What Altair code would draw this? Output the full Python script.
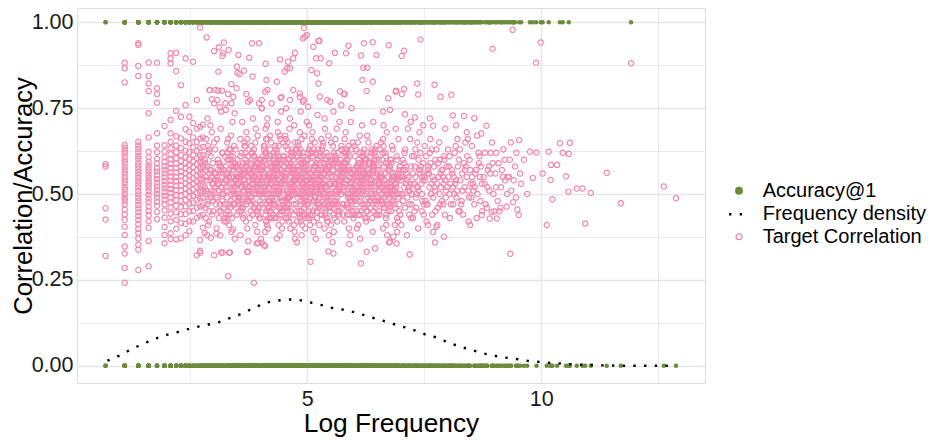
import altair as alt
import pandas as pd

FONT = "Liberation Sans"
GREEN = "#6E8B3D"
PINK = "#F386AF"
GRID = "#E6E6E6"

# ---- discrete low-frequency columns (x = log frequency) ----
COLUMN_X = [0.69, 1.10, 1.39, 1.61, 1.79, 1.95, 2.08, 2.20, 2.30, 2.40, 2.48, 2.56, 2.64, 2.71, 2.77]
COLUMN_CORR = [
    [0.587, 0.580, 0.459, 0.426, 0.320],
    [0.882, 0.866, 0.825, 0.643, 0.635, 0.627, 0.618, 0.608, 0.598, 0.589, 0.578, 0.569, 0.560, 0.549, 0.540, 0.531,
     0.520, 0.511, 0.500, 0.490, 0.481, 0.470, 0.455, 0.440, 0.425, 0.405, 0.381, 0.347, 0.327, 0.285, 0.242],
    [0.939, 0.934, 0.873, 0.844, 0.652, 0.641, 0.632, 0.622, 0.611, 0.603, 0.592, 0.583, 0.574, 0.565, 0.556, 0.547,
     0.537, 0.528, 0.519, 0.509, 0.499, 0.489, 0.479, 0.468, 0.458, 0.447, 0.436, 0.425, 0.412, 0.399, 0.387, 0.371,
     0.352, 0.338, 0.279],
    [0.883, 0.844, 0.822, 0.800, 0.735, 0.665, 0.623, 0.607, 0.594, 0.584, 0.575, 0.566, 0.556, 0.547, 0.537, 0.528,
     0.519, 0.509, 0.498, 0.487, 0.476, 0.464, 0.451, 0.438, 0.421, 0.402, 0.363, 0.290],
    [0.882, 0.808, 0.791, 0.766, 0.677, 0.641, 0.622, 0.603, 0.589, 0.576, 0.566, 0.555, 0.544, 0.533, 0.522, 0.512,
     0.501, 0.490, 0.478, 0.466, 0.448, 0.427],
    [0.698, 0.642, 0.624, 0.607, 0.594, 0.582, 0.571, 0.560, 0.549, 0.538, 0.527, 0.517, 0.506, 0.495, 0.484, 0.470,
     0.452, 0.431, 0.404, 0.381, 0.357],
    [0.910, 0.895, 0.880, 0.716, 0.677, 0.652, 0.633, 0.616, 0.601, 0.588, 0.575, 0.563, 0.551, 0.539, 0.527, 0.515,
     0.503, 0.490, 0.476, 0.461, 0.443, 0.421, 0.386, 0.369],
    [0.911, 0.858, 0.742, 0.668, 0.641, 0.622, 0.604, 0.589, 0.576, 0.563, 0.550, 0.537, 0.524, 0.511, 0.497, 0.482,
     0.466, 0.447, 0.425, 0.399, 0.368],
    [0.817, 0.725, 0.662, 0.634, 0.613, 0.596, 0.580, 0.566, 0.552, 0.539, 0.525, 0.511, 0.496, 0.480, 0.462, 0.441,
     0.416, 0.371],
    [0.895, 0.759, 0.689, 0.652, 0.627, 0.607, 0.590, 0.575, 0.560, 0.546, 0.531, 0.516, 0.500, 0.483, 0.464, 0.442,
     0.413, 0.380],
    [0.725, 0.681, 0.648, 0.622, 0.602, 0.585, 0.569, 0.554, 0.539, 0.524, 0.508, 0.491, 0.472, 0.450, 0.421, 0.392],
    [0.885, 0.707, 0.665, 0.636, 0.614, 0.595, 0.578, 0.562, 0.546, 0.530, 0.513, 0.495, 0.475, 0.451, 0.420],
    [0.774, 0.690, 0.652, 0.626, 0.605, 0.587, 0.570, 0.554, 0.538, 0.521, 0.503, 0.483, 0.460, 0.431, 0.322],
    [0.985, 0.696, 0.661, 0.634, 0.612, 0.593, 0.576, 0.559, 0.542, 0.525, 0.507, 0.487, 0.464, 0.436, 0.366, 0.335,
     0.329],
    [0.702, 0.665, 0.637, 0.614, 0.595, 0.577, 0.560, 0.543, 0.526, 0.508, 0.489, 0.467, 0.440, 0.402],
]
COLUMN_ACC = [
    "10010",
    "1001011010011010110010110100101",
    "10011010110010101101001101010011010",
    "0110110010110010101100110101",
    "1011001011001011010011",
    "010110110010101100110",
    "101011001101010011011001",
    "110010110100110101101",
    "101100101101001011",
    "011011001011010100",
    "1001101101001101",
    "110100110100101",
    "011011001011010",
    "10110010011011001",
    "01011011001011",
]

# ---- main cloud (x, correlation, accuracy) ----
CORE_A = [
    (2.83,.55,1),(2.89,.48,0),(2.94,.61,0),(2.81,.52,1),(2.97,.44,0),(2.86,.58,1),(2.92,.50,1),(2.84,.66,0),
    (2.99,.53,1),(2.88,.41,0),(2.95,.57,0),(2.82,.46,1),(2.90,.63,0),(2.96,.51,1),(2.85,.54,1),(2.93,.70,0),
    (2.87,.47,0),(2.98,.59,1),(2.83,.43,0),(2.91,.56,1),(2.89,.62,0),(2.94,.49,1),(2.81,.60,0),(2.97,.53,0),
    (2.86,.38,1),(2.92,.57,0),(2.84,.51,1),(2.99,.45,1),(2.88,.64,0),(2.95,.55,1),(2.82,.59,0),(2.90,.42,0),
    (2.96,.68,1),(2.85,.50,0),(2.93,.54,1),(2.87,.72,1),(2.98,.48,0),(2.83,.57,0),(2.91,.45,1),
    (3.02,.51,0),(3.14,.58,1),(3.21,.46,1),(3.07,.55,0),(3.18,.62,0),(3.04,.49,1),(3.11,.53,0),(3.23,.42,1),
    (3.09,.60,1),(3.16,.52,0),(3.01,.65,0),(3.13,.47,1),(3.20,.56,0),(3.06,.40,1),(3.24,.54,1),(3.10,.59,0),
    (3.17,.50,0),(3.03,.63,1),(3.12,.45,0),(3.22,.57,1),(3.08,.53,1),(3.15,.69,0),(3.19,.48,0),(3.05,.56,1),
    (3.11,.43,0),(3.24,.61,1),(3.02,.52,0),(3.14,.38,1),(3.18,.55,1),(3.07,.66,0),(3.21,.50,1),(3.09,.57,0),
    (3.16,.74,0),(3.04,.54,1),(3.23,.47,1),
    (3.27,.56,1),(3.38,.50,0),(3.46,.59,0),(3.31,.45,1),(3.42,.53,1),(3.29,.62,0),(3.36,.48,0),(3.48,.55,1),
    (3.33,.41,0),(3.40,.58,1),(3.26,.52,0),(3.44,.64,1),(3.35,.47,1),(3.47,.54,0),(3.30,.60,0),(3.39,.43,1),
    (3.43,.57,0),(3.28,.51,1),(3.37,.67,1),(3.45,.49,0),(3.32,.55,0),(3.41,.61,1),(3.34,.44,0),(3.49,.53,1),
    (3.26,.58,1),(3.38,.39,0),(3.46,.52,0),(3.30,.56,1),(3.42,.47,0),(3.36,.63,1),(3.44,.50,1),(3.28,.54,0),
    (3.40,.71,0),(3.33,.57,1),(3.48,.46,0),(3.35,.60,1),(3.27,.42,1),(3.43,.55,0),(3.39,.51,0),(3.31,.66,1),
    (3.47,.58,0),(3.45,.37,1),(3.37,.53,1),(3.29,.49,0),
    (3.52,.53,0),(3.63,.59,1),(3.71,.48,1),(3.56,.56,0),(3.68,.62,0),(3.54,.45,1),(3.61,.52,1),(3.73,.57,0),
    (3.58,.50,0),(3.66,.65,1),(3.51,.55,1),(3.69,.42,0),(3.60,.58,0),(3.74,.51,1),(3.55,.47,0),(3.64,.54,1),
    (3.70,.68,1),(3.53,.49,0),(3.62,.57,0),(3.72,.40,1),(3.57,.61,1),(3.67,.53,0),(3.59,.46,0),(3.65,.56,1),
    (3.51,.60,0),(3.74,.50,1),(3.55,.55,1),(3.63,.43,0),(3.70,.58,0),(3.58,.52,1),(3.68,.64,1),(3.53,.48,0),
    (3.66,.54,0),(3.61,.71,1),(3.73,.51,0),(3.56,.57,1),(3.64,.44,1),(3.71,.59,0),(3.52,.55,0),(3.69,.47,1),
    (3.60,.62,1),(3.67,.52,0),(3.57,.38,0),(3.62,.56,1),(3.72,.66,0),(3.54,.53,1),(3.65,.49,1),
    (3.77,.57,1),(3.88,.52,0),(3.96,.46,0),(3.81,.60,1),(3.93,.54,1),(3.79,.49,0),(3.86,.63,0),(3.98,.55,1),
    (3.83,.44,0),(3.91,.58,1),(3.76,.51,1),(3.94,.67,0),(3.85,.53,0),(3.99,.48,1),(3.80,.56,0),(3.89,.41,1),
    (3.95,.59,1),(3.78,.52,0),(3.87,.61,0),(3.97,.50,1),(3.82,.55,1),(3.92,.45,0),(3.84,.57,0),(3.90,.69,1),
    (3.76,.54,0),(3.99,.60,1),(3.80,.47,1),(3.88,.55,0),(3.95,.52,0),(3.83,.62,1),(3.93,.39,0),(3.78,.56,1),
    (3.91,.50,1),(3.86,.58,0),(3.98,.43,0),(3.81,.53,1),(3.89,.65,0),(3.96,.57,1),(3.77,.48,1),(3.94,.54,0),
    (3.85,.61,0),(3.92,.51,1),(3.87,.46,1),(3.79,.59,0),(3.97,.53,0),(3.84,.72,1),(3.90,.50,0),(3.82,.56,1),
    (3.95,.44,1),(3.88,.58,0),(3.80,.64,0),(3.93,.52,1),(3.86,.55,1),
]
CORE_B = [
    (4.02,.54,1),(4.13,.47,0),(4.21,.61,1),(4.06,.52,0),(4.18,.43,0),(4.04,.58,1),(4.11,.50,1),(4.23,.65,0),
    (4.08,.55,0),(4.16,.40,1),(4.01,.57,0),(4.19,.46,1),(4.10,.62,1),(4.24,.53,0),(4.05,.49,0),(4.14,.70,1),
    (4.20,.48,0),(4.03,.59,1),(4.12,.42,1),(4.22,.56,0),(4.07,.64,0),(4.17,.50,1),(4.09,.60,0),(4.15,.53,1),
    (4.01,.37,1),(4.24,.55,0),(4.05,.61,0),(4.13,.45,1),(4.20,.67,0),(4.08,.51,1),(4.18,.52,1),(4.03,.75,0),
    (4.16,.57,0),(4.11,.44,1),(4.23,.49,0),(4.06,.58,1),(4.14,.54,1),(4.21,.63,0),(4.02,.47,0),(4.19,.56,1),
    (4.10,.39,1),(4.17,.60,0),(4.07,.52,0),(4.12,.66,1),(4.22,.45,0),(4.04,.50,1),(4.15,.72,1),(4.09,.55,0),
    (4.20,.58,0),(4.01,.51,1),(4.13,.61,0),(4.24,.43,1),(4.06,.56,1),(4.18,.48,0),(4.11,.69,0),(4.03,.53,1),
    (4.16,.46,0),(4.21,.54,1),(4.08,.63,1),(4.14,.41,0),(4.19,.59,0),
    (4.27,.50,0),(4.38,.56,1),(4.46,.45,1),(4.31,.59,0),(4.43,.53,0),(4.29,.47,1),(4.36,.62,0),(4.48,.51,1),
    (4.33,.57,1),(4.41,.44,0),(4.26,.55,0),(4.44,.60,1),(4.35,.49,1),(4.49,.65,0),(4.30,.52,0),(4.39,.41,1),
    (4.45,.57,0),(4.28,.54,1),(4.37,.68,1),(4.47,.48,0),(4.32,.56,0),(4.42,.51,1),(4.34,.63,1),(4.40,.46,0),
    (4.26,.58,0),(4.49,.53,1),(4.30,.43,0),(4.38,.60,1),(4.45,.55,1),(4.33,.50,0),(4.43,.66,0),(4.28,.52,1),
    (4.41,.38,1),(4.36,.58,0),(4.48,.54,0),(4.31,.47,1),(4.39,.61,0),(4.46,.56,1),(4.27,.44,1),(4.44,.53,0),
    (4.35,.59,0),(4.42,.49,1),(4.37,.71,1),(4.29,.55,0),(4.47,.42,0),(4.34,.57,1),(4.40,.52,1),(4.32,.64,0),
    (4.45,.48,0),(4.38,.54,1),(4.30,.60,1),(4.43,.46,0),(4.36,.53,0),(4.49,.58,1),(4.26,.51,0),(4.41,.67,1),
    (4.33,.45,1),(4.47,.56,0),(4.28,.62,0),(4.39,.50,1),(4.44,.74,0),(4.31,.54,1),(4.46,.40,1),(4.35,.57,0),
    (4.73,.54,1),(4.58,.47,0),(4.51,.61,0),(4.66,.52,1),(4.55,.43,1),(4.69,.58,0),(4.62,.50,0),(4.74,.65,1),
    (4.53,.55,1),(4.64,.40,0),(4.71,.57,0),(4.57,.46,1),(4.68,.62,0),(4.52,.53,1),(4.60,.49,1),(4.72,.70,0),
    (4.56,.48,0),(4.65,.59,1),(4.61,.42,0),(4.70,.56,1),(4.54,.64,1),(4.67,.50,0),(4.59,.60,0),(4.63,.53,1),
    (4.74,.37,0),(4.51,.55,1),(4.66,.61,1),(4.57,.45,0),(4.53,.67,0),(4.70,.51,1),(4.62,.52,0),(4.55,.75,1),
    (4.68,.57,1),(4.72,.44,0),(4.59,.49,0),(4.64,.58,1),(4.52,.54,0),(4.67,.63,1),(4.60,.47,1),(4.56,.56,0),
    (4.73,.39,0),(4.61,.60,1),(4.69,.52,0),(4.54,.66,1),(4.58,.45,1),(4.71,.50,0),(4.63,.72,0),(4.65,.55,1),
    (4.51,.58,0),(4.57,.51,1),(4.69,.61,1),(4.60,.43,0),(4.74,.56,0),(4.55,.48,1),(4.62,.69,1),(4.66,.53,0),
    (4.53,.46,0),(4.70,.54,1),(4.58,.63,0),(4.72,.41,1),(4.56,.59,1),(4.64,.51,0),(4.67,.57,0),(4.61,.49,1),
    (4.77,.50,1),(4.92,.56,0),(4.83,.45,0),(4.98,.60,1),(4.80,.53,1),(4.89,.41,0),(4.95,.52,1),(4.76,.63,0),
    (4.86,.48,0),(4.97,.55,1),(4.81,.58,0),(4.90,.44,1),(4.78,.51,1),(4.94,.67,0),(4.85,.54,0),(4.99,.47,1),
    (4.82,.60,0),(4.88,.38,1),(4.96,.57,1),(4.79,.49,0),(4.91,.62,1),(4.84,.52,0),(4.93,.46,0),(4.87,.59,1),
    (4.76,.55,1),(4.98,.43,0),(4.80,.65,0),(4.90,.50,1),(4.83,.57,0),(4.95,.53,1),(4.78,.42,1),(4.92,.61,0),
    (4.86,.47,1),(4.99,.71,0),(4.81,.55,0),(4.89,.51,1),(4.97,.58,1),(4.77,.45,0),(4.85,.63,1),(4.94,.49,0),
    (4.82,.54,0),(4.88,.60,1),(4.96,.40,1),(4.79,.57,0),(4.91,.52,0),(4.84,.68,1),(4.98,.48,1),(4.87,.55,0),
    (4.93,.44,1),(4.80,.61,0),(4.90,.53,0),(4.76,.47,1),(4.95,.59,1),(4.83,.50,0),(4.86,.74,0),(4.97,.54,1),
    (4.78,.36,0),(4.92,.56,1),(4.81,.64,1),(4.89,.49,0),(4.94,.58,0),(4.85,.43,1),(4.99,.52,1),(4.88,.66,0),
]
CORE_C = [
    (5.03,.57,0),(5.16,.49,1),(5.22,.54,1),(5.08,.62,0),(5.12,.45,0),(5.01,.52,1),(5.19,.59,0),(5.06,.41,1),
    (5.14,.55,1),(5.24,.50,0),(5.10,.66,1),(5.02,.47,0),(5.18,.58,0),(5.05,.53,1),(5.21,.43,1),(5.11,.61,0),
    (5.15,.51,0),(5.04,.70,1),(5.20,.48,1),(5.09,.56,0),(5.13,.39,0),(5.23,.63,1),(5.07,.52,0),(5.17,.46,1),
    (5.01,.60,1),(5.12,.54,0),(5.22,.57,0),(5.06,.44,1),(5.16,.65,0),(5.03,.50,1),(5.19,.53,1),(5.10,.59,0),
    (5.24,.47,0),(5.08,.55,1),(5.14,.42,1),(5.02,.62,0),(5.20,.51,0),(5.11,.68,1),(5.05,.56,0),(5.17,.49,1),
    (5.09,.53,1),(5.23,.60,0),(5.04,.45,0),(5.13,.57,1),(5.21,.52,1),(5.07,.64,0),(5.15,.48,1),(5.01,.55,0),
    (5.18,.37,0),(5.12,.61,1),(5.06,.50,1),(5.22,.73,0),(5.10,.54,0),(5.16,.58,1),(5.03,.43,1),(5.19,.56,0),
    (5.08,.51,0),(5.14,.63,1),(5.24,.46,1),
    (5.27,.52,1),(5.38,.58,0),(5.46,.47,0),(5.31,.55,1),(5.42,.61,1),(5.29,.44,0),(5.36,.53,1),(5.48,.50,0),
    (5.33,.64,0),(5.40,.57,1),(5.26,.49,1),(5.44,.42,0),(5.35,.56,0),(5.49,.60,1),(5.30,.51,1),(5.39,.46,0),
    (5.45,.67,1),(5.28,.54,0),(5.37,.40,0),(5.47,.58,1),(5.32,.52,1),(5.41,.62,0),(5.34,.48,1),(5.43,.55,0),
    (5.26,.59,0),(5.49,.45,1),(5.30,.53,1),(5.38,.69,0),(5.45,.50,0),(5.33,.57,1),(5.42,.43,0),(5.28,.61,1),
    (5.40,.52,1),(5.36,.47,0),(5.48,.56,1),(5.31,.63,0),(5.39,.54,0),(5.46,.38,1),(5.27,.57,1),(5.44,.51,0),
    (5.35,.59,0),(5.41,.49,1),(5.37,.72,1),(5.29,.55,0),(5.47,.46,0),(5.34,.53,1),(5.40,.60,0),(5.32,.44,1),
    (5.45,.58,1),(5.38,.52,0),(5.30,.66,0),(5.43,.48,1),(5.36,.56,1),(5.49,.53,0),(5.26,.41,0),(5.41,.57,1),
    (5.35,.50,1),
    (5.52,.55,0),(5.64,.49,1),(5.71,.60,0),(5.57,.53,1),(5.68,.44,1),(5.54,.58,0),(5.61,.51,0),(5.74,.63,1),
    (5.58,.47,1),(5.66,.56,0),(5.51,.41,1),(5.69,.54,0),(5.60,.66,0),(5.73,.50,1),(5.55,.57,1),(5.63,.45,0),
    (5.70,.52,1),(5.53,.61,0),(5.62,.48,0),(5.72,.55,1),(5.57,.39,1),(5.67,.59,0),(5.59,.53,0),(5.65,.62,1),
    (5.51,.50,1),(5.74,.46,0),(5.55,.54,1),(5.63,.69,0),(5.70,.57,0),(5.58,.43,1),(5.68,.51,1),(5.53,.60,0),
    (5.66,.47,0),(5.61,.55,1),(5.73,.64,0),(5.56,.52,1),(5.64,.42,1),(5.71,.58,0),(5.52,.49,0),(5.69,.71,1),
    (5.60,.53,1),(5.67,.45,0),(5.57,.62,0),(5.62,.56,1),(5.72,.50,1),(5.54,.36,0),(5.65,.59,0),(5.59,.48,1),
    (5.70,.54,0),(5.51,.65,1),(5.63,.51,1),(5.74,.57,0),(5.56,.44,0),(5.68,.53,1),(5.61,.60,1),
    (5.94,.53,1),(5.78,.58,0),(5.85,.47,1),(5.99,.55,0),(5.81,.62,0),(5.90,.44,1),(5.76,.52,1),(5.87,.50,0),
    (5.97,.65,0),(5.83,.57,1),(5.92,.49,1),(5.79,.42,0),(5.96,.56,0),(5.86,.60,1),(5.77,.51,1),(5.93,.46,0),
    (5.82,.68,0),(5.98,.54,1),(5.89,.40,1),(5.80,.59,0),(5.95,.52,0),(5.84,.63,1),(5.91,.48,1),(5.76,.55,0),
    (5.88,.58,0),(5.97,.45,1),(5.81,.53,1),(5.93,.71,0),(5.86,.50,0),(5.79,.57,1),(5.99,.43,1),(5.84,.61,0),
    (5.90,.52,0),(5.77,.47,1),(5.95,.56,1),(5.88,.64,0),(5.82,.54,0),(5.92,.38,1),(5.78,.57,1),(5.96,.51,0),
    (5.85,.60,1),(5.98,.49,0),(5.80,.66,0),(5.91,.55,1),(5.87,.46,1),(5.94,.53,0),(5.83,.59,0),(5.76,.44,1),
    (5.89,.57,1),(5.97,.51,0),(5.79,.62,0),(5.93,.48,1),(5.86,.54,1),
]
CORE_D = [
    (6.02,.51,0),(6.14,.57,1),(6.22,.46,1),(6.07,.54,0),(6.17,.61,0),(6.04,.49,1),(6.11,.55,1),(6.24,.43,0),
    (6.09,.59,0),(6.19,.52,1),(6.01,.64,1),(6.13,.48,0),(6.21,.56,0),(6.06,.40,1),(6.16,.53,0),(6.23,.60,1),
    (6.03,.50,1),(6.12,.67,0),(6.18,.47,0),(6.08,.57,1),(6.15,.54,1),(6.01,.44,0),(6.20,.62,1),(6.10,.51,0),
    (6.05,.58,0),(6.14,.45,1),(6.24,.55,1),(6.07,.52,0),(6.17,.70,0),(6.03,.48,1),(6.22,.58,0),(6.12,.53,1),
    (6.09,.41,1),(6.19,.56,0),(6.04,.63,0),(6.16,.50,1),(6.11,.59,1),(6.23,.47,0),(6.06,.55,1),(6.13,.37,0),
    (6.21,.54,0),(6.02,.57,1),(6.18,.51,1),(6.08,.65,0),(6.15,.49,0),(6.24,.60,1),(6.10,.44,1),(6.20,.53,0),
    (6.05,.56,0),(6.14,.62,1),
    (6.27,.55,1),(6.38,.49,0),(6.46,.60,0),(6.31,.52,1),(6.42,.45,1),(6.29,.57,0),(6.36,.53,0),(6.48,.64,1),
    (6.33,.48,1),(6.41,.56,0),(6.26,.42,0),(6.44,.51,1),(6.35,.61,1),(6.49,.54,0),(6.30,.47,0),(6.39,.58,1),
    (6.45,.50,0),(6.28,.67,1),(6.37,.53,1),(6.47,.44,0),(6.32,.59,0),(6.42,.52,1),(6.34,.56,1),(6.40,.39,0),
    (6.26,.60,1),(6.49,.49,0),(6.30,.55,0),(6.38,.63,1),(6.45,.46,1),(6.33,.53,0),(6.43,.58,0),(6.28,.50,1),
    (6.41,.71,0),(6.36,.54,1),(6.48,.47,1),(6.31,.57,0),(6.39,.43,0),(6.46,.55,1),(6.27,.51,1),(6.44,.62,0),
    (6.35,.48,0),(6.41,.59,1),(6.37,.52,1),(6.29,.45,0),
    (6.52,.53,0),(6.64,.58,1),(6.71,.47,0),(6.57,.55,1),(6.68,.61,1),(6.54,.44,0),(6.61,.52,0),(6.74,.50,1),
    (6.58,.65,1),(6.66,.56,0),(6.51,.48,1),(6.69,.41,0),(6.60,.55,0),(6.73,.59,1),(6.55,.51,1),(6.63,.46,0),
    (6.70,.68,0),(6.53,.53,1),(6.62,.40,1),(6.72,.57,0),(6.57,.52,0),(6.67,.62,1),(6.59,.48,1),(6.65,.54,0),
    (6.51,.58,0),(6.74,.45,1),(6.55,.53,1),(6.63,.70,0),(6.70,.50,0),(6.58,.56,1),(6.68,.43,1),(6.53,.60,0),
    (6.66,.51,0),(6.61,.47,1),(6.73,.55,1),(6.56,.63,0),(6.64,.53,1),(6.71,.38,0),(6.52,.57,0),(6.69,.50,1),
    (6.60,.60,1),(6.67,.49,0),(6.62,.66,0),(6.54,.54,1),
    (6.77,.52,1),(6.89,.56,0),(6.96,.47,1),(6.81,.54,0),(6.92,.60,0),(6.79,.45,1),(6.86,.51,1),(6.98,.58,0),
    (6.83,.63,0),(6.90,.53,1),(6.76,.49,1),(6.94,.42,0),(6.85,.55,0),(6.99,.50,1),(6.80,.59,1),(6.88,.46,0),
    (6.95,.66,1),(6.78,.53,0),(6.87,.41,0),(6.97,.57,1),(6.82,.51,1),(6.91,.61,0),(6.84,.48,0),(6.93,.54,1),
    (6.76,.57,0),(6.99,.44,1),(6.80,.52,1),(6.89,.69,0),(6.95,.49,0),(6.83,.56,1),(6.92,.39,1),(6.78,.60,0),
    (6.90,.52,0),(6.86,.47,1),(6.98,.55,1),(6.81,.64,0),(6.88,.53,1),(6.96,.45,0),(6.77,.58,0),(6.94,.50,1),
]
CORE_E = [
    (7.02,.55,1),(7.14,.49,0),(7.22,.58,1),(7.07,.52,0),(7.18,.44,1),(7.04,.60,0),(7.11,.53,0),(7.23,.47,1),
    (7.09,.63,1),(7.16,.55,0),(7.01,.41,0),(7.19,.51,1),(7.10,.57,1),(7.24,.61,0),(7.05,.48,0),(7.14,.54,1),
    (7.20,.66,0),(7.03,.50,1),(7.12,.56,1),(7.22,.43,0),(7.07,.59,0),(7.17,.52,1),(7.09,.46,1),(7.15,.69,0),
    (7.01,.54,1),(7.24,.50,0),(7.05,.57,0),(7.13,.38,1),(7.20,.53,1),(7.08,.62,0),(7.18,.47,0),(7.03,.55,1),
    (7.16,.51,0),(7.11,.58,1),
    (7.27,.53,0),(7.39,.57,1),(7.46,.48,1),(7.31,.55,0),(7.42,.62,0),(7.29,.45,1),(7.36,.52,1),(7.48,.59,0),
    (7.33,.50,0),(7.41,.56,1),(7.26,.43,1),(7.44,.53,0),(7.35,.65,0),(7.49,.47,1),(7.30,.58,1),(7.38,.51,0),
    (7.45,.55,1),(7.28,.61,0),(7.37,.40,0),(7.47,.54,1),(7.32,.49,1),(7.42,.57,0),(7.34,.52,0),(7.40,.68,1),
    (7.26,.56,1),(7.49,.44,0),(7.30,.53,0),(7.38,.60,1),(7.45,.50,1),(7.33,.46,0),(7.43,.58,1),
    (7.52,.54,1),(7.64,.50,0),(7.71,.58,0),(7.57,.47,1),(7.68,.55,1),(7.54,.61,0),(7.61,.52,1),(7.74,.45,0),
    (7.58,.57,0),(7.66,.53,1),(7.51,.64,1),(7.69,.49,0),(7.60,.56,0),(7.73,.51,1),(7.55,.42,1),(7.63,.59,0),
    (7.70,.54,1),(7.53,.48,0),(7.62,.62,0),(7.72,.52,1),(7.57,.56,1),(7.67,.44,0),(7.59,.58,0),(7.65,.50,1),
    (7.51,.55,0),(7.74,.60,1),(7.55,.47,1),(7.63,.66,0),
    (7.77,.53,0),(7.89,.57,1),(7.96,.49,1),(7.81,.55,0),(7.92,.61,0),(7.79,.46,1),(7.86,.52,1),(7.98,.58,0),
    (7.83,.50,1),(7.90,.55,0),(7.76,.63,0),(7.94,.44,1),(7.85,.56,1),(7.99,.52,0),(7.80,.59,0),(7.88,.48,1),
    (7.95,.54,1),(7.78,.41,0),(7.87,.57,0),(7.97,.51,1),(7.82,.65,1),(7.91,.53,0),(7.84,.47,0),(7.93,.60,1),
    (8.02,.55,1),(8.14,.50,0),(8.22,.58,1),(8.07,.47,0),(8.18,.54,1),(8.04,.61,0),(8.11,.52,1),(8.23,.45,0),
    (8.09,.57,0),(8.16,.53,1),(8.01,.63,1),(8.19,.49,0),(8.10,.56,0),(8.24,.60,1),(8.05,.43,1),(8.13,.55,0),
    (8.20,.51,1),(8.03,.58,0),(8.12,.47,1),(8.21,.66,0),(8.06,.53,0),
    (8.27,.54,0),(8.39,.58,1),(8.46,.49,0),(8.31,.56,1),(8.42,.61,1),(8.29,.47,0),(8.36,.52,1),(8.48,.57,0),
    (8.33,.44,0),(8.41,.55,1),(8.26,.63,1),(8.44,.51,0),(8.35,.59,0),(8.49,.53,1),(8.30,.48,1),(8.38,.65,0),
    (8.45,.42,1),
    (8.52,.55,1),(8.64,.50,0),(8.71,.58,1),(8.57,.47,0),(8.68,.61,0),(8.54,.53,1),(8.61,.57,1),(8.74,.45,0),
    (8.58,.52,0),(8.66,.62,1),(8.51,.49,1),(8.69,.55,0),
    (8.77,.55,0),(8.89,.51,1),(8.96,.59,0),(8.81,.47,1),(8.92,.62,1),(8.79,.53,0),(8.86,.57,1),(8.98,.50,0),
    (9.02,.56,1),(9.14,.52,0),(9.22,.60,1),(9.07,.48,0),(9.18,.55,1),(9.04,.62,0),(9.11,.45,1),(9.23,.54,0),
    (9.31,.55,1),(9.44,.58,1),(9.36,.51,0),(9.57,.53,1),(9.63,.60,0),(9.70,.50,0),
]
CORE_RIGHT = [
    (7.31,.63,1),(7.58,.41,0),(7.83,.60,1),(8.04,.50,0),(8.17,.64,1),(8.26,.45,0),(8.37,.57,1),(8.43,.66,0),
    (8.55,.51,1),(8.62,.43,0),(8.67,.59,1),(8.73,.53,0),(8.80,.62,1),(8.84,.46,0),(8.91,.56,1),(8.95,.65,0),
    (9.03,.52,1),(9.09,.59,0),(9.13,.46,1),(9.19,.63,0),(9.27,.50,1),(9.33,.60,0),(9.41,.54,1),(9.47,.62,0),
    (7.45,.45,1),(7.66,.63,0),(7.91,.47,1),(8.15,.62,0),(8.32,.51,1),(8.47,.60,0),(8.59,.56,1),(8.70,.48,0),
    (8.88,.58,1),(9.00,.45,0),(9.16,.57,1),(9.28,.55,0),(9.35,.65,1),(9.46,.49,0),(8.52,.64,1),(8.85,.52,0),
    (7.21,.71,1),(7.48,.70,0),(7.62,.72,1),(7.95,.69,0),(8.18,.70,1),(8.41,.68,0),(8.63,.67,1),
]
CORE_DENSE = [
    (3.05,.47,1),(4.62,.58,0),(5.38,.44,1),(6.21,.61,0),(3.74,.52,0),(4.09,.64,1),(5.87,.49,0),(6.55,.55,1),
    (3.41,.59,0),(4.88,.45,1),(5.12,.62,0),(6.03,.51,1),(3.96,.56,1),(4.33,.43,0),(5.65,.58,1),(6.78,.47,0),
    (3.22,.53,1),(4.51,.60,0),(5.29,.50,1),(6.40,.57,0),(3.63,.46,0),(4.17,.55,1),(5.94,.63,0),(6.12,.44,1),
    (3.87,.61,1),(4.74,.52,0),(5.48,.46,0),(6.67,.59,1),(3.15,.57,0),(4.26,.48,1),(5.71,.54,1),(6.31,.65,0),
    (3.52,.50,1),(4.95,.57,0),(5.03,.43,1),(6.89,.53,0),(3.33,.63,0),(4.40,.51,1),(5.56,.60,0),(6.47,.48,1),
    (3.79,.45,1),(4.68,.56,0),(5.19,.52,1),(6.08,.58,0),(3.48,.54,0),(4.13,.42,1),(5.82,.57,0),(6.59,.50,1),
    (3.91,.58,1),(4.57,.49,0),(5.34,.65,1),(6.26,.45,0),(3.27,.44,1),(4.82,.62,0),(5.61,.47,1),(6.95,.56,0),
    (3.68,.60,0),(4.21,.53,1),(5.08,.49,0),(6.36,.62,1),(3.11,.51,1),(4.47,.46,0),(5.77,.59,1),(6.72,.52,0),
    (3.57,.66,0),(4.99,.54,1),(5.43,.42,0),(6.17,.55,1),(3.83,.48,1),(4.36,.59,0),(5.24,.56,1),(6.50,.44,0),
    (3.38,.55,0),(4.71,.47,1),(5.90,.61,0),(6.84,.49,1),(3.99,.43,1),(4.04,.57,0),(5.52,.53,1),(6.43,.60,0),
    (3.19,.62,0),(4.59,.50,1),(5.15,.58,0),(6.65,.46,1),(3.71,.49,1),(4.29,.61,0),(5.68,.45,1),(6.01,.53,0),
    (3.45,.58,1),(4.85,.44,0),(5.31,.55,0),(6.24,.59,1),(3.93,.52,0),(4.15,.66,1),(5.97,.48,1),(6.76,.57,0),
    (3.02,.56,0),(4.44,.53,1),(5.73,.63,0),(6.38,.50,1),(3.60,.45,1),(4.92,.59,0),(5.06,.51,1),(6.92,.43,0),
    (3.30,.60,1),(4.64,.45,0),(5.45,.57,1),(6.14,.52,0),(3.85,.54,0),(4.23,.50,1),(5.85,.44,0),(6.61,.62,1),
    (3.54,.48,1),(4.78,.63,0),(5.22,.47,1),(6.29,.56,0),(3.76,.57,0),(4.06,.46,1),(5.59,.61,0),(6.86,.54,1),
    (3.24,.43,0),(4.53,.56,1),(5.36,.59,0),(6.05,.47,1),(3.66,.64,1),(4.97,.49,0),(5.92,.55,1),(6.70,.51,0),
    (3.43,.51,0),(4.31,.58,1),(5.11,.44,0),(6.45,.63,1),(3.89,.47,1),(4.69,.53,0),(5.64,.50,1),(6.19,.57,0),
    (3.13,.59,1),(4.11,.52,0),(5.27,.62,1),(6.53,.45,0),(3.59,.55,0),(4.86,.42,1),(5.79,.56,0),(6.98,.58,1),
    (3.35,.46,1),(4.49,.61,0),(5.50,.48,1),(6.33,.54,0),(3.81,.62,0),(4.25,.47,1),(5.01,.57,0),(6.62,.49,1),
    (3.50,.44,0),(4.73,.55,1),(5.41,.52,0),(6.10,.60,1),(3.97,.53,1),(4.39,.64,0),(5.88,.46,1),(6.81,.55,0),
    (3.08,.49,0),(4.60,.57,1),(5.17,.54,0),(6.27,.43,1),(3.70,.58,1),(4.19,.45,0),(5.70,.60,1),(6.57,.52,0),
    (3.47,.63,1),(4.91,.51,0),(5.33,.46,1),(6.41,.58,0),(3.86,.50,0),(4.02,.60,1),(5.95,.53,0),(6.74,.47,1),
    (3.26,.54,1),(4.55,.43,0),(5.55,.64,1),(6.07,.50,0),(3.62,.47,0),(4.80,.58,1),(5.09,.50,0),(6.49,.56,1),
    (3.40,.57,1),(4.35,.52,0),(5.76,.47,1),(6.22,.63,0),(3.94,.45,0),(4.66,.62,1),(5.25,.55,0),(6.88,.51,1),
    (3.17,.52,0),(4.28,.56,1),(5.62,.51,0),(6.35,.46,1),(3.73,.61,1),(4.94,.47,0),(5.47,.58,1),(6.16,.54,0),
    (3.55,.49,0),(4.42,.59,1),(5.84,.62,0),(6.69,.44,1),(3.82,.56,1),(4.08,.51,0),(5.13,.48,1),(6.02,.61,0),
    (3.29,.65,0),(4.76,.54,1),(5.39,.60,0),(6.54,.53,1),(3.64,.51,1),(4.16,.48,0),(5.98,.57,1),(6.30,.49,0),
    (3.44,.47,0),(4.58,.65,1),(5.21,.45,0),(6.79,.60,1),(3.92,.59,1),(4.45,.44,0),(5.67,.54,1),(6.11,.56,0),
    (3.09,.54,1),(4.87,.56,0),(5.30,.52,1),(6.44,.48,0),(3.77,.43,0),(4.30,.57,1),(5.91,.50,0),(6.63,.64,1),
    (3.36,.61,1),(4.63,.49,0),(5.04,.63,1),(6.20,.51,0),(3.67,.53,0),(4.12,.62,1),(5.53,.47,0),(6.93,.55,1),
    (3.51,.58,1),(4.98,.51,0),(5.44,.56,1),(6.34,.59,0),(3.88,.46,0),(4.37,.54,1),(5.80,.52,0),(6.58,.48,1),
    (3.21,.50,0),(4.70,.60,1),(5.16,.53,0),(6.06,.45,1),(3.75,.55,1),(4.22,.43,0),(5.58,.59,1),(6.71,.53,0),
    (3.42,.52,1),(4.83,.57,0),(5.35,.49,1),(6.25,.55,0),(3.98,.60,0),(4.50,.48,1),(5.74,.56,0),(6.46,.61,1),
    (3.16,.45,1),(4.05,.55,0),(5.26,.61,1),(6.83,.50,0),(3.61,.56,0),(4.89,.53,1),(5.96,.44,0),(6.15,.58,1),
]
OUTLIERS_HIGH = [
    (2.85,.956,1),(2.91,.803,0),(2.92,.803,1),(2.96,.776,0),(3.01,.916,0),(3.01,.764,1),(3.04,.803,0),(3.08,.774,1),
    (3.10,.801,0),(3.10,.856,1),(3.11,.927,1),(3.13,.752,0),(3.18,.801,1),(3.19,.902,0),(3.20,.910,1),(3.22,.941,0),
    (3.25,.764,1),(3.26,.745,0),(3.31,.791,0),(3.32,.919,1),(3.38,.820,0),(3.38,.764,1),(3.42,.783,1),(3.45,.735,0),
    (3.49,.808,0),(3.50,.871,1),(3.51,.853,0),(3.53,.905,1),(3.55,.849,0),(3.65,.859,1),(3.70,.791,0),(3.74,.769,1),
    (3.76,.897,0),(3.78,.774,1),(3.82,.939,1),(3.83,.842,0),(3.97,.939,0),(3.97,.764,1),(4.03,.750,0),(4.03,.774,1),
    (4.10,.798,0),(4.11,.879,1),(4.13,.832,0),(4.15,.803,1),(4.24,.764,0),(4.35,.827,1),(4.42,.892,0),(4.43,.780,1),
    (4.45,.782,0),(4.52,.856,1),(4.57,.866,0),(4.59,.885,1),(4.63,.866,0),(4.63,.774,1),(4.70,.895,1),(4.70,.803,0),
    (4.74,.911,0),(4.84,.793,1),(4.84,.783,0),(4.91,.953,1),(4.91,.769,0),(4.93,.984,1),(4.93,.774,0),(4.95,.958,0),
    (4.99,.963,1),(5.02,.754,0),(5.09,.861,1),(5.13,.929,0),(5.19,.895,1),(5.21,.852,0),(5.24,.946,1),(5.24,.822,0),
    (5.26,.946,0),(5.27,.783,1),(5.29,.895,1),(5.43,.774,0),(5.47,.881,1),(5.49,.769,0),(5.56,.740,1),(5.59,.911,0),
    (5.70,.799,1),(5.73,.759,0),(5.78,.791,1),(5.80,.791,0),(5.83,.910,1),(5.88,.932,0),(5.95,.750,1),(6.15,.903,0),
    (6.18,.832,1),(6.20,.868,0),(6.21,.939,1),(6.27,.800,0),(6.28,.868,1),(6.40,.942,0),(6.40,.827,1),(6.48,.905,0),
    (6.62,.740,1),(6.73,.779,0),(6.74,.933,1),(6.77,.745,0),(6.89,.798,1),(6.90,.801,0),(7.02,.902,1),(7.02,.791,0),
    (7.07,.917,0),(7.07,.806,1),(7.09,.732,0),(7.30,.723,1),(7.35,.822,0),(7.37,.790,1),(7.42,.950,1),(7.69,.699,0),
    (7.72,.818,1),(7.85,.783,0),(8.08,.789,1),(8.11,.729,0),(8.35,.727,1),(8.57,.721,0),(8.72,.676,1),(8.83,.699,0),
    (8.96,.923,1),(9.39,.978,1),(9.53,.657,1),(9.89,.882,1),(9.99,.941,1),
]
OUTLIERS_LOW = [
    (2.81,.387,0),(2.94,.373,1),(3.01,.322,0),(3.06,.385,1),(3.16,.330,0),(3.19,.330,1),(3.31,.261,0),(3.33,.329,1),
    (3.35,.330,0),(3.41,.397,0),(3.72,.332,1),(3.73,.332,0),(3.74,.363,0),(3.86,.242,1),(3.92,.356,0),(3.95,.358,1),
    (4.03,.358,0),(4.08,.351,0),(4.10,.349,1),(4.35,.371,0),(5.07,.303,1),(5.45,.333,0),(5.56,.327,0),(5.90,.354,1),
    (6.15,.298,0),(6.27,.332,1),(6.45,.342,0),(6.75,.359,0),(6.77,.361,1),(6.84,.376,0),(6.91,.356,1),(7.19,.324,0),
    (7.69,.390,1),(7.73,.359,0),(7.76,.405,1),(7.92,.376,0),(8.48,.410,1),(8.73,.439,0),(8.90,.429,1),(8.94,.448,0),
    (9.05,.429,1),(9.26,.463,0),(9.34,.326,0),(9.40,.476,1),(9.49,.455,0),(9.52,.439,0),
]
TAIL = [
    (9.55,.560,0),(9.76,.623,1),(9.82,.547,1),(9.90,.621,0),(10.03,.560,1),(10.12,.410,0),(10.16,.623,1),
    (10.20,.541,0),(10.21,.585,0),(10.24,.485,0),(10.34,.585,0),(10.40,.648,1),(10.46,.620,1),(10.53,.552,0),
    (10.58,.507,0),(10.59,.617,1),(10.61,.649,0),(10.76,.516,0),(10.88,.516,0),(10.94,.414,0),(11.06,.503,0),
    (11.40,.562,0),(11.70,.473,0),(11.92,.881,1),(12.62,.522,0),(12.88,.488,0),
]

# ---- frequency density curve ----
DENS_X = [0.73, 0.96, 1.17, 1.38, 1.61, 1.83, 2.05, 2.28, 2.51, 2.74, 2.96, 3.11, 3.33, 3.55, 3.76, 3.97, 4.20,
          4.43, 4.66, 4.90, 5.13, 5.36, 5.48, 5.71, 5.95, 6.18, 6.40, 6.63, 6.86, 7.09, 7.32, 7.53, 7.76, 7.87,
          8.09, 8.31, 8.54, 8.77, 9.01, 9.24, 9.47, 9.69, 9.92, 10.16, 10.49, 10.73, 10.96, 11.19, 11.42, 11.66,
          12.00, 12.40, 12.88]
DENS_Y = [0.015, 0.028, 0.043, 0.057, 0.071, 0.083, 0.092, 0.100, 0.109, 0.116, 0.122, 0.127, 0.138, 0.149, 0.162,
          0.175, 0.186, 0.191, 0.193, 0.190, 0.182, 0.175, 0.170, 0.165, 0.158, 0.149, 0.140, 0.131, 0.121, 0.112,
          0.102, 0.091, 0.082, 0.076, 0.064, 0.054, 0.045, 0.036, 0.029, 0.024, 0.020, 0.015, 0.012, 0.009, 0.006,
          0.004, 0.003, 0.002, 0.001, 0.0005, 0.0003, 0.0002, 0.0001]

rows = []
for cx, ys, accs in zip(COLUMN_X, COLUMN_CORR, COLUMN_ACC):
    accs = (accs + "0" * len(ys))[:len(ys)]
    for y, a in zip(ys, accs):
        rows.append({"x": cx, "corr": y, "acc": int(a)})
for group in (CORE_A, CORE_B, CORE_C, CORE_D, CORE_E, CORE_RIGHT, CORE_DENSE, OUTLIERS_HIGH, OUTLIERS_LOW, TAIL):
    for x, y, a in group:
        rows.append({"x": x, "corr": y, "acc": a})
words = pd.DataFrame(rows)
words["corr_series"] = "Target Correlation"
words["acc_series"] = "Accuracy@1"
dens = pd.DataFrame({"x": DENS_X, "dens": DENS_Y})
dens["dens_series"] = "Frequency density"

xscale = alt.Scale(domain=[0.08, 13.50], nice=False, zero=False)
yscale = alt.Scale(domain=[-0.05, 1.0416], nice=False, zero=False)

x_major = "datum.value % 5 === 0"
y_major = "abs(datum.value * 4 - round(datum.value * 4)) < 0.001"

xaxis = alt.Axis(
    title="Log Frequency", values=[2.5, 5, 7.5, 10, 12.5], format="d",
    labelExpr=f"{x_major} ? datum.label : ''",
    grid=True, gridColor=GRID,
    gridWidth={"condition": {"test": x_major, "value": 1.4}, "value": 0.8},
    ticks=False, tickSize=0, domain=False, labelPadding=5, titlePadding=1,
    labelFontSize=21.5, labelColor="#1A1A1A", titleFontSize=26.3, titleFontWeight="normal",
    titleColor="black", labelFlush=False, labelOverlap=False,
)
yaxis = alt.Axis(
    title="Correlation/Accuracy", values=[0, 0.125, 0.25, 0.375, 0.5, 0.625, 0.75, 0.875, 1.0],
    labelExpr=f"{y_major} ? format(datum.value, '.2f') : ''",
    grid=True, gridColor=GRID,
    gridWidth={"condition": {"test": y_major, "value": 1.4}, "value": 0.8},
    ticks=False, tickSize=0, domain=False, labelPadding=4, titlePadding=1, titleX=-41,
    labelFontSize=21.5, labelColor="#1A1A1A", titleFontSize=25.6, titleFontWeight="normal",
    titleColor="black", labelOverlap=False,
)

LEG = dict(title=None, orient="none", padding=0, labelFontSize=20, labelFont=FONT,
           labelColor="black", labelLimit=0, symbolOpacity=1)

acc_legend = alt.Legend(legendX=652, legendY=172.7, symbolType="circle", symbolSize=64,
                        symbolFillColor=GREEN, symbolStrokeWidth=0, labelOffset=13.7, **LEG)
dens_legend = alt.Legend(legendX=648.5, legendY=196.3, symbolType="stroke", symbolSize=169,
                         symbolStrokeColor="black", symbolStrokeWidth=2.4, labelOffset=17.2, **LEG)
corr_legend = alt.Legend(legendX=652, legendY=218.7, symbolType="circle", symbolSize=34,
                         symbolStrokeWidth=1.3, labelOffset=13.7, **LEG)

corr_layer = alt.Chart(words).mark_point(
    shape="circle", filled=False, size=28, strokeWidth=1.2, opacity=1
).encode(
    x=alt.X("x:Q", scale=xscale, axis=xaxis),
    y=alt.Y("corr:Q", scale=yscale, axis=yaxis),
    stroke=alt.Stroke("corr_series:N", scale=alt.Scale(domain=["Target Correlation"], range=[PINK]),
                      legend=corr_legend),
)

acc_layer = alt.Chart(words).mark_circle(size=20, opacity=1).encode(
    x=alt.X("x:Q", scale=xscale, axis=xaxis),
    y=alt.Y("acc:Q", scale=yscale, axis=yaxis),
    fill=alt.Fill("acc_series:N", scale=alt.Scale(domain=["Accuracy@1"], range=[GREEN]),
                  legend=acc_legend),
)

dens_layer = alt.Chart(dens).mark_line(
    color="black", strokeWidth=2.4, strokeCap="butt", interpolate="monotone"
).encode(
    x=alt.X("x:Q", scale=xscale, axis=xaxis),
    y=alt.Y("dens:Q", scale=yscale, axis=yaxis),
    strokeDash=alt.StrokeDash("dens_series:N", scale=alt.Scale(domain=["Frequency density"], range=[[2.4, 8.3]]),
                              legend=dens_legend),
)

chart = alt.layer(corr_layer, acc_layer, dens_layer).properties(
    width=628, height=375, autosize="none",
    padding={"left": 69, "top": 0, "right": 222, "bottom": 57},
).configure_view(stroke=None).configure(
    font=FONT, background="white"
).configure_axis(labelFont=FONT, titleFont=FONT)

chart.save("out.html", embed_options={"renderer": "svg", "actions": False})
